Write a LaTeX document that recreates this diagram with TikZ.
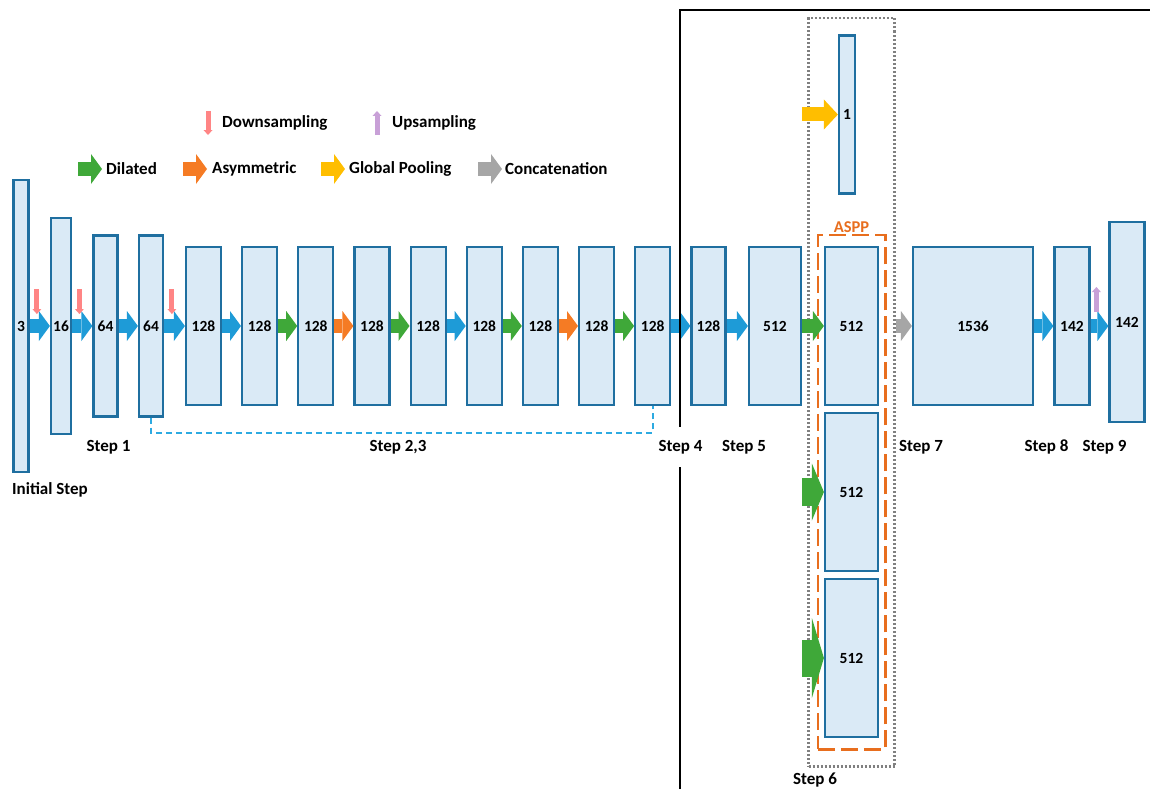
\documentclass[tikz,border=0pt]{standalone}
\usepackage{fontspec}
\setmainfont{Carlito}
\usepackage{tikz}
\usetikzlibrary{arrows.meta, positioning, fit, calc}
\usepackage{xcolor}

\definecolor{boxfill}{RGB}{218,234,246}
\definecolor{boxline}{RGB}{31,111,160}
\definecolor{convblue}{RGB}{30,155,215}
\definecolor{dilgreen}{RGB}{63,168,57}
\definecolor{asyorange}{RGB}{245,123,36}
\definecolor{poolyellow}{RGB}{255,190,0}
\definecolor{catgray}{RGB}{166,166,166}
\definecolor{downpink}{RGB}{255,133,133}
\definecolor{uppurple}{RGB}{200,160,215}
\definecolor{asppline}{RGB}{232,110,30}
\definecolor{skipblue}{RGB}{45,170,225}

\begin{document}
\begin{tikzpicture}[
    x=1pt, y=-1pt,
    layer/.style = {rectangle, draw=boxline, fill=boxfill, line width=2.2pt, inner sep=0pt, font=\bfseries\fontsize{15.5}{17}\selectfont},
    mid/.style = {layer, minimum width=35pt, minimum height=158pt},
    steplabel/.style = {font=\bfseries\fontsize{17}{19}\selectfont, inner sep=1pt},
    legtext/.style = {font=\bfseries\fontsize{17}{19}\selectfont, anchor=west, inner sep=0pt},
    flow/.style = {line width=14pt, -{Triangle[length=11pt, width=30pt, line width=0pt]}},
    conv/.style = {flow, draw=convblue},
    dilated/.style = {flow, draw=dilgreen},
    asym/.style = {flow, draw=asyorange},
    pooling/.style = {flow, draw=poolyellow},
    concat/.style = {flow, draw=catgray},
    downsample/.style = {draw=downpink, line width=5pt, -{Triangle[length=5pt, width=9pt, line width=0pt]}},
    upsample/.style = {draw=uppurple, line width=5pt, -{Triangle[length=5pt, width=9pt, line width=0pt]}},
    asppframe/.style = {rectangle, draw=asppline, line width=2.8pt, dash pattern=on 17pt off 6pt},
    stepframe/.style = {rectangle, draw=gray, line width=2.2pt, dash pattern=on 2pt off 2pt},
    skip/.style = {draw=skipblue, line width=1.8pt, dash pattern=on 6pt off 4pt},
    divider/.style = {draw=black, line width=2.5pt}
]
\useasboundingbox (0,0) rectangle (1150,789);

% Legend
\node (lgdown) [legtext] at (222,123) {Downsampling};
\node (lgup) [legtext] at (392,123) {Upsampling};
\node (lgdil) [legtext] at (106,169) {Dilated};
\node (lgasy) [legtext] at (212,169) {Asymmetric};
\node (lgpool) [legtext] at (349,169) {Global Pooling};
\node (lgcat) [legtext] at (505,169) {Concatenation};

\draw [downsample] ([xshift=-14pt, yshift=12pt]lgdown.west) -- ([xshift=-14pt, yshift=-12pt]lgdown.west);
\draw [upsample] ([xshift=-15pt, yshift=-12pt]lgup.west) -- ([xshift=-15pt, yshift=12pt]lgup.west);
\draw [dilated] ([xshift=-28pt]lgdil.west) -- ([xshift=-4pt]lgdil.west);
\draw [asym] ([xshift=-29pt]lgasy.west) -- ([xshift=-5pt]lgasy.west);
\draw [pooling] ([xshift=-28pt]lgpool.west) -- ([xshift=-4pt]lgpool.west);
\draw [concat] ([xshift=-27pt]lgcat.west) -- ([xshift=-3pt]lgcat.west);

% Initial step and Step 1
\node (in3) [layer, minimum width=15pt, minimum height=292pt] at (21,326) {3};
\node (l16) [layer, minimum width=20pt, minimum height=216pt] at (61,326) {16};
\node (l64a) [layer, minimum width=24pt, minimum height=181pt] at (105.5,326) {64};
\node (l64b) [layer, minimum width=24pt, minimum height=181pt] at (151,326) {64};

% Step 2,3
\node (l128a) [mid] at (203.5,326) {128};
\node (l128b) [mid] at (259.6,326) {128};
\node (l128c) [mid] at (315.8,326) {128};
\node (l128d) [mid] at (372.0,326) {128};
\node (l128e) [mid] at (428.1,326) {128};
\node (l128f) [mid] at (484.3,326) {128};
\node (l128g) [mid] at (540.4,326) {128};
\node (l128h) [mid] at (596.6,326) {128};
\node (l128i) [mid] at (652.7,326) {128};

% Step 4, 5
\node (l128j) [mid, minimum width=34pt] at (708.5,326) {128};
\node (l512) [mid, minimum width=52pt] at (775,326) {512};

% Step 6: global pooling and ASPP branches
\node (gpool) [layer, minimum width=16pt, minimum height=158pt] at (847,114.5) {1};
\node (aspp1) [mid, minimum width=53pt] at (851.5,326) {512};
\node (aspp2) [mid, minimum width=53pt] at (851.5,492) {512};
\node (aspp3) [mid, minimum width=53pt] at (851.5,658) {512};

\node (asppbox) [asppframe, fit=(aspp1)(aspp3), inner xsep=6pt, inner ysep=11pt] {};
\node (aspplbl) [above=0pt of asppbox.north, inner sep=1pt, text=asppline, font=\bfseries\fontsize{16.5}{18}\selectfont] {ASPP};
\node (step6) [stepframe, fit=(gpool)(asppbox), inner xsep=8pt, inner ysep=16pt] {};

% Step 7, 8, 9
\node (l1536) [mid, minimum width=120pt] at (973,326) {1536};
\node (l142a) [mid] at (1072,326) {142};
\node (l142b) [layer, minimum width=35pt, minimum height=200pt] at (1127,322) {142};
\coordinate (upin) at (l142a.east -| l142b.west);

% Connections along the main path
\draw [conv] (in3.east) -- (l16.west);
\draw [conv] (l16.east) -- (l64a.west);
\draw [conv] (l64a.east) -- (l64b.west);
\draw [conv] (l64b.east) -- (l128a.west);
\draw [conv] (l128a.east) -- (l128b.west);
\draw [dilated] (l128b.east) -- (l128c.west);
\draw [asym] (l128c.east) -- (l128d.west);
\draw [dilated] (l128d.east) -- (l128e.west);
\draw [conv] (l128e.east) -- (l128f.west);
\draw [dilated] (l128f.east) -- (l128g.west);
\draw [asym] (l128g.east) -- (l128h.west);
\draw [dilated] (l128h.east) -- (l128i.west);
\draw [conv] (l128i.east) -- (l128j.west);
\draw [conv] (l128j.east) -- (l512.west);
\draw [dilated] (l512.east) -- (aspp1.west);
\draw [dilated, line width=28pt, -{Triangle[length=12pt, width=57pt, line width=0pt]}] (l512.east |- aspp2.west) -- (aspp2.west);
\draw [dilated, line width=37pt, -{Triangle[length=12pt, width=80pt, line width=0pt]}] (l512.east |- aspp3.west) -- (aspp3.west);
\draw [pooling, -{Triangle[length=14pt, width=30pt, line width=0pt]}] (l512.east |- gpool.west) -- (gpool.west);
\draw [concat] (step6.east |- l1536.west) -- (l1536.west);
\draw [conv] (l1536.east) -- (l142a.west);
\draw [conv] (l142a.east) -- (upin);

% Down- and upsampling marks
\draw [downsample] ([xshift=-13pt, yshift=37pt]l16.west) -- ([xshift=-13pt, yshift=12pt]l16.west);
\draw [downsample] ([xshift=-13pt, yshift=37pt]l64a.west) -- ([xshift=-13pt, yshift=12pt]l64a.west);
\draw [downsample] ([xshift=-13pt, yshift=37pt]l128a.west) -- ([xshift=-13pt, yshift=12pt]l128a.west);
\draw [upsample] ([xshift=-12pt, yshift=14pt]upin) -- ([xshift=-12pt, yshift=39pt]upin);

% Repeated block (Step 2,3)
\draw [skip] (l64b.south) -- ++(0,15) -| (l128i.south);

% Split between encoder and decoder
\draw [divider] (680,789) -- (680,10) -- (1150,10);

% Step labels
\node (s0) [steplabel] at (50,490) {Initial Step};
\node (s1) [steplabel] at (108.5,447) {Step 1};
\node (s23) [steplabel] at (398,447) {Step 2,3};
\node (s4) [steplabel, fill=white, inner ysep=13pt] at (680.5,447) {Step 4};
\node (s5) [steplabel] at (744,447) {Step 5};
\node (s6) [steplabel] at (815,780) {Step 6};
\node (s7) [steplabel] at (921,447) {Step 7};
\node (s8) [steplabel] at (1046.5,447) {Step 8};
\node (s9) [steplabel] at (1104.5,447) {Step 9};

\end{tikzpicture}
\end{document}
